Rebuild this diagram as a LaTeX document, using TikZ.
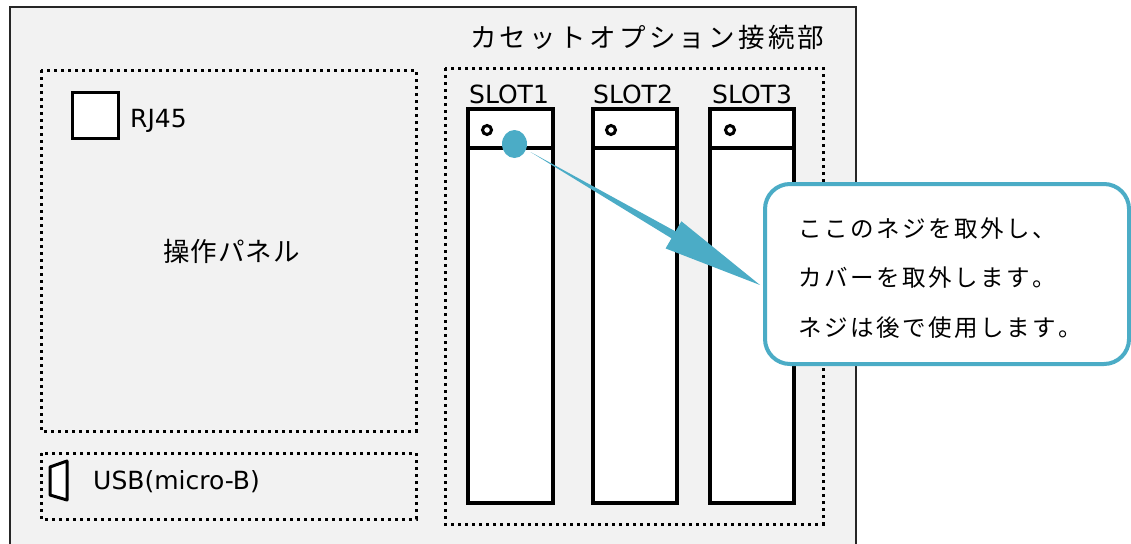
\documentclass[tikz,border=0pt]{standalone}
\usepackage{fontspec}
\setmainfont{DejaVu Sans}
\newfontfamily\jp{Noto Sans CJK JP}
\usetikzlibrary{calc,shapes.geometric}
\definecolor{callblue}{HTML}{4BACC6}
\definecolor{panelbg}{HTML}{F2F2F2}
\makeatletter
\newcommand\lsp[2]{\@tfor\lsp@c:=#2\do{\lsp@c\kern#1}}
\makeatother
\tikzset{
  dotbox/.style={line width=3pt, dash pattern=on 3pt off 4pt},
  slotbox/.style={draw, fill=white, line width=3.5pt, rectangle, inner sep=0pt},
  screw/.style={draw, fill=white, circle, line width=3pt, minimum size=9pt, inner sep=0pt},
  lbl/.style={inner sep=0pt, font=\fontsize{25}{30}\selectfont},
  jlbl/.style={inner sep=0pt},
  calloutbox/.style={draw=callblue, fill=white, line width=4pt, rounded corners=25pt, rectangle, inner sep=0pt},
}
\begin{document}
\begin{tikzpicture}[x=1pt,y=-1pt]
\useasboundingbox (0,0) rectangle (1131,543);
\clip (0,0) rectangle (1131,543);
% outer housing
\draw[line width=2pt, draw=black!85, fill=panelbg] (10,7) rectangle (856,570);
% dotted regions
\draw[dotbox] (41,70) rectangle (416,431);
\draw[dotbox] (41,453) rectangle (416,519);
\draw[dotbox] (445,68) rectangle (823,524);
% title
\node[jlbl, anchor=base] (title) at (649,48) {\jp\fontsize{26.5}{30}\selectfont\lsp{3.3pt}{カセットオプション接続部}};
% slots
\node[slotbox, minimum width=85pt, minimum height=394pt] (s1) at (510.5,306) {};
\node[slotbox, minimum width=84pt, minimum height=394pt] (s2) at (635,306) {};
\node[slotbox, minimum width=84pt, minimum height=394pt] (s3) at (752,306) {};
\foreach \s in {s1,s2,s3}{
  \draw[line width=3.5pt] (\s.west |- 0,148) -- (\s.east |- 0,148);
}
\node[screw] (c1) at (487,130) {};
\node[screw] (c2) at (611,130) {};
\node[screw] (c3) at (730,130) {};
\node[lbl, anchor=base] (l1) at (509,103) {SLOT1};
\node[lbl, anchor=base] (l2) at (633,103) {SLOT2};
\node[lbl, anchor=base] (l3) at (752,103) {SLOT3};
% operation panel
\node[draw, fill=white, line width=3pt, minimum width=46pt, minimum height=46pt, inner sep=0pt] (rj) at (95,115) {};
\node[lbl, anchor=base west] (rjt) at (130,127) {RJ45};
\node[jlbl, anchor=base] (panel) at (232,261) {\jp\fontsize{26.5}{30}\selectfont\lsp{1pt}{操作パネル}};
% usb
\draw[line width=3pt, fill=white, line join=round] (50,467) -- (67,461) -- (67,500) -- (50,495) -- cycle;
\node[lbl, anchor=base west] (usb) at (93,489) {USB(micro-B)};
% callout
\node[calloutbox, minimum width=364pt, minimum height=180pt] (callout) at (947,274) {};
\node[jlbl, anchor=base west] (t1) at (798,237) {\jp\fontsize{23.5}{26}\selectfont\lsp{2.5pt}{ここのネジを取外し、}};
\node[jlbl, anchor=base west] (t2) at (798,286.5) {\jp\fontsize{23.5}{26}\selectfont\lsp{2.5pt}{カバーを取外します。}};
\node[jlbl, anchor=base west] (t3) at (798,336) {\jp\fontsize{23.5}{26}\selectfont\lsp{2.5pt}{ネジは後で使用します。}};
% marker dot and arrow
\node[ellipse, fill=callblue, minimum width=25pt, minimum height=28pt, inner sep=0pt] (dot) at (514.5,144) {};
\coordinate (at) at ([shift={(16,8)}]dot.center);
\coordinate (ap) at ([shift={(-3,11)}]callout.west);
\coordinate (B) at ($(ap)!100pt!(at)$);
\fill[callblue] (at) -- ($(B)!4pt!90:(ap)$) -- ($(B)!15.7pt!90:(ap)$) -- (ap)
  -- ($(B)!15.7pt!-90:(ap)$) -- ($(B)!4pt!-90:(ap)$) -- cycle;
\end{tikzpicture}
\end{document}
